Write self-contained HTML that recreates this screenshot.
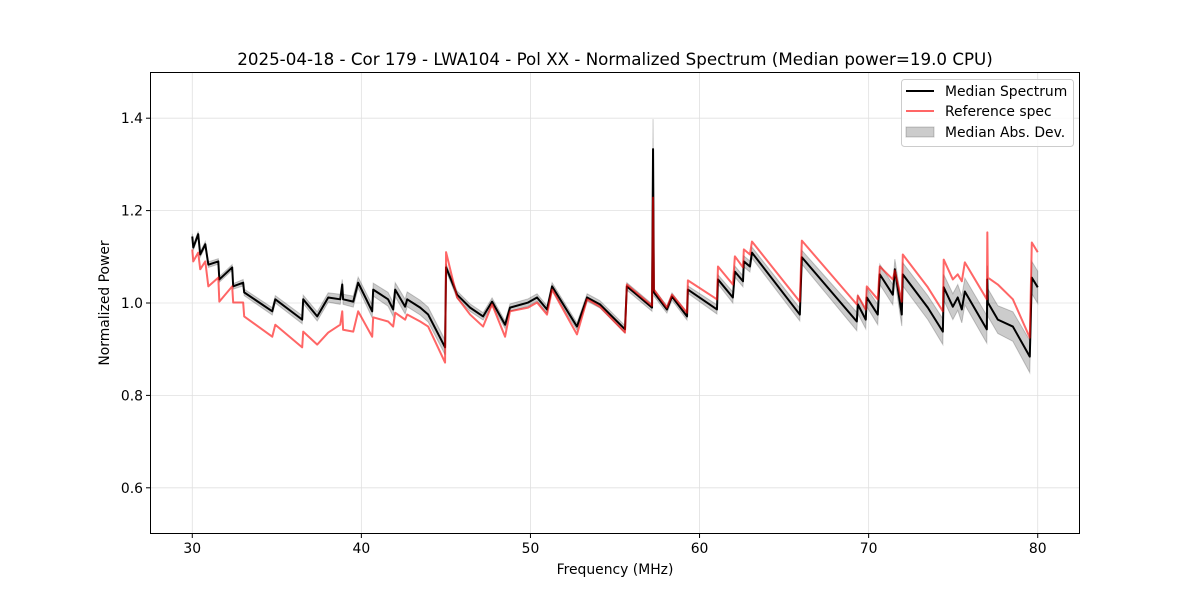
<!DOCTYPE html>
<html><head><meta charset="utf-8"><style>
body{margin:0;background:#fff;}
svg text{font-family:"DejaVu Sans","Liberation Sans",sans-serif;}
</style></head><body>
<svg id="chart" width="1200" height="600" xmlns="http://www.w3.org/2000/svg">
<rect width="1200" height="600" fill="#fff"/>
<text x="615" y="65" font-size="16.7" text-anchor="middle">2025-04-18 - Cor 179 - LWA104 - Pol XX - Normalized Spectrum (Median power=19.0 CPU)</text>
<g id="grid"></g>
<g id="plot"></g>
<rect x="150.5" y="72.5" width="929" height="461" fill="none" stroke="#000" stroke-width="1"/>
<g id="ticks"></g>
<text x="615" y="574" font-size="13.9" text-anchor="middle">Frequency (MHz)</text>
<text transform="translate(109,303) rotate(-90)" font-size="13.9" text-anchor="middle">Normalized Power</text>
<g>
<rect x="901.5" y="79.5" width="172" height="67" rx="3" fill="#fff" fill-opacity="0.8" stroke="#ccc"/>
<line x1="906" y1="91" x2="934" y2="91" stroke="#000" stroke-width="2"/>
<text x="945" y="96" font-size="13.9">Median Spectrum</text>
<line x1="906" y1="111" x2="934" y2="111" stroke="red" stroke-opacity="0.6" stroke-width="2"/>
<text x="945" y="116" font-size="13.9">Reference spec</text>
<rect x="906" y="127" width="28" height="10" fill="#000" fill-opacity="0.2" stroke="#000" stroke-opacity="0.2"/>
<text x="945" y="137" font-size="13.9">Median Abs. Dev.</text>
</g>
</svg>
<script>
const freqs=[30.00,30.06,30.35,30.47,30.77,30.95,31.54,31.60,32.36,32.42,33.01,33.07,34.73,34.91,36.50,36.56,37.39,38.04,38.75,38.87,38.92,39.52,39.81,40.64,40.70,41.58,41.88,42.00,42.59,42.71,43.48,43.95,44.95,45.01,45.66,46.43,47.20,47.73,48.50,48.79,49.86,50.39,50.98,51.28,52.75,53.35,54.11,55.59,55.70,57.19,57.25,57.30,58.07,58.37,59.26,59.31,61.03,61.09,61.97,62.09,62.57,62.62,62.98,63.10,65.93,66.05,69.30,69.36,69.83,69.89,70.54,70.66,71.43,71.55,71.96,72.02,73.50,74.39,74.44,74.98,75.27,75.51,75.69,76.99,77.02,77.05,77.64,78.53,79.53,79.65,80.00];
const median=[1.144,1.120,1.149,1.105,1.127,1.083,1.090,1.051,1.077,1.036,1.044,1.023,0.982,1.008,0.964,1.008,0.971,1.012,1.008,1.040,1.008,1.003,1.044,0.982,1.029,1.008,0.986,1.029,0.992,1.008,0.990,0.975,0.904,1.077,1.018,0.990,0.971,1.003,0.953,0.990,1.001,1.012,0.986,1.036,0.949,1.012,0.997,0.943,1.036,0.990,1.333,1.023,0.986,1.014,0.971,1.029,0.986,1.051,1.012,1.068,1.047,1.090,1.079,1.109,0.975,1.099,0.960,0.997,0.964,1.012,0.975,1.062,1.018,1.073,0.975,1.062,0.990,0.938,1.034,0.992,1.012,0.986,1.025,0.943,1.051,1.001,0.964,0.949,0.884,1.055,1.034];
const reference=[1.116,1.090,1.109,1.073,1.090,1.036,1.055,1.003,1.036,1.001,1.001,0.971,0.927,0.953,0.904,0.938,0.910,0.936,0.953,0.982,0.942,0.938,0.982,0.927,0.969,0.960,0.949,0.979,0.964,0.975,0.960,0.949,0.871,1.110,1.012,0.975,0.949,0.997,0.927,0.982,0.990,1.001,0.975,1.029,0.932,1.008,0.992,0.936,1.040,0.994,1.228,1.029,0.990,1.018,0.979,1.049,1.008,1.079,1.040,1.101,1.077,1.116,1.105,1.133,1.003,1.135,0.997,1.016,0.986,1.036,1.008,1.079,1.051,1.070,1.003,1.105,1.034,0.982,1.094,1.051,1.062,1.047,1.088,1.008,1.153,1.055,1.040,1.008,0.925,1.131,1.110];
const mad=[0.006,0.006,0.006,0.006,0.006,0.006,0.006,0.006,0.006,0.006,0.007,0.007,0.008,0.008,0.009,0.009,0.010,0.010,0.011,0.011,0.011,0.012,0.012,0.014,0.014,0.015,0.015,0.015,0.016,0.016,0.016,0.016,0.016,0.008,0.008,0.008,0.008,0.008,0.008,0.008,0.008,0.008,0.008,0.008,0.008,0.008,0.008,0.008,0.008,0.008,0.065,0.008,0.008,0.008,0.008,0.008,0.010,0.010,0.012,0.012,0.012,0.012,0.012,0.012,0.014,0.015,0.020,0.020,0.020,0.020,0.022,0.022,0.022,0.022,0.025,0.025,0.026,0.028,0.028,0.028,0.028,0.029,0.029,0.030,0.030,0.030,0.030,0.032,0.035,0.035,0.035];
const xTicks=[30,40,50,60,70,80];
const yTicks=[0.6,0.8,1.0,1.2,1.4];
const yTickLabels=["0.6","0.8","1.0","1.2","1.4"];
const X0=150,X1=1080,Y0=534,Y1=72,xmin=27.5,xmax=82.5,ymin=0.5,ymax=1.5;
const sx=f=>X0+(f-xmin)/(xmax-xmin)*(X1-X0);
const sy=v=>Y0-(v-ymin)/(ymax-ymin)*(Y0-Y1);
const NS="http://www.w3.org/2000/svg";
function mk(tag,attrs,parent){const e=document.createElementNS(NS,tag);for(const k in attrs)e.setAttribute(k,attrs[k]);parent.appendChild(e);return e;}
const grid=document.getElementById('grid'),plot=document.getElementById('plot'),ticks=document.getElementById('ticks');
xTicks.forEach(t=>{const x=sx(t);
const g=mk('line',{x1:x,x2:x,y1:Y1,y2:Y0,stroke:'#e0e0e0','stroke-width':0.8},grid);


mk('line',{x1:x,x2:x,y1:Y0,y2:Y0+4,stroke:'#000'},ticks);
const tx=mk('text',{x:x,y:Y0+19,'font-size':13.9,'text-anchor':'middle'},ticks);tx.textContent=t;

});
yTicks.forEach((t,i)=>{const y=sy(t);
const g=mk('line',{x1:X0,x2:X1,y1:y,y2:y,stroke:'#e0e0e0','stroke-width':0.8},grid);


mk('line',{x1:X0-4,x2:X0,y1:y,y2:y,stroke:'#000'},ticks);
const tx=mk('text',{x:X0-7,y:y+5,'font-size':13.9,'text-anchor':'end'},ticks);tx.textContent=yTickLabels[i];

});
let up=[],dn=[];
freqs.forEach((f,i)=>{up.push(sx(f)+','+sy(median[i]+mad[i]));dn.unshift(sx(f)+','+sy(median[i]-mad[i]));});
const band=mk('polygon',{points:up.concat(dn).join(' '),fill:'#000','fill-opacity':0.2,stroke:'#000','stroke-opacity':0.2},plot);


const ml=mk('polyline',{points:freqs.map((f,i)=>sx(f)+','+sy(median[i])).join(' '),fill:'none',stroke:'#000','stroke-width':2,'stroke-linejoin':'round'},plot);


const rl=mk('polyline',{points:freqs.map((f,i)=>sx(f)+','+sy(reference[i])).join(' '),fill:'none',stroke:'red','stroke-opacity':0.6,'stroke-width':2,'stroke-linejoin':'round'},plot);


</script>
</body></html>
